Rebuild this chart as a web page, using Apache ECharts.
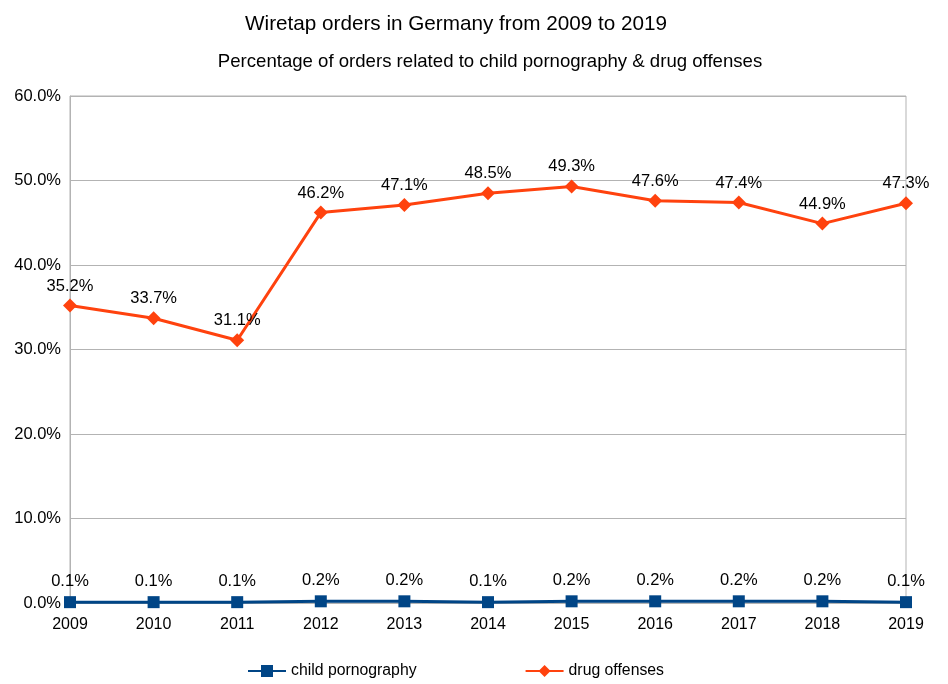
<!DOCTYPE html>
<html><head><meta charset="utf-8">
<script src="https://cdn.jsdelivr.net/npm/echarts@6/dist/echarts.min.js"></script>
<style>html,body{margin:0;padding:0;background:#fff}#c{width:948px;height:684px}</style>
</head><body><div id="c"></div>
<script>
var years = ['2009','2010','2011','2012','2013','2014','2015','2016','2017','2018','2019'];
var childPornography = [0.1,0.1,0.1,0.2,0.2,0.1,0.2,0.2,0.2,0.2,0.1];
var drugOffenses = [35.2,33.7,31.1,46.2,47.1,48.5,49.3,47.6,47.4,44.9,47.3];
var titleText = 'Wiretap orders in Germany from 2009 to 2019';
var subtitleText = 'Percentage of orders related to child pornography & drug offenses';

var font = 'Liberation Sans, Arial, sans-serif';
var chart = echarts.init(document.getElementById('c'));
function pct(v){ return Number(v).toFixed(1) + '%'; }
chart.setOption({
  backgroundColor:'#fff',
  animation:false,
  title:[
    {text:titleText, left:451, textAlign:'center', top:9, textStyle:{fontFamily:font, fontSize:20.7, fontWeight:'normal', color:'#000'}},
    {text:subtitleText, left:485, textAlign:'center', top:47, textStyle:{fontFamily:font, fontSize:18.6, fontWeight:'normal', color:'#000'}}
  ],
  grid:{left:70, right:42, top:96, bottom:81, show:true, borderColor:'#b3b3b3', borderWidth:1, backgroundColor:'transparent'},
  legend:{bottom:0, left:242, itemGap:108, itemWidth:38, itemHeight:15,
    textStyle:{fontFamily:font, fontSize:15.8, color:'#000'},
    data:['child pornography','drug offenses']},
  xAxis:{type:'category', data:years, boundaryGap:false,
    axisLine:{show:false}, axisTick:{show:false},
    splitLine:{show:false},
    axisLabel:{fontFamily:font, fontSize:16, color:'#000', margin:14}},
  yAxis:{type:'value', min:0, max:60, interval:10,
    axisLine:{show:true, lineStyle:{color:'#b3b3b3'}}, axisTick:{show:false},
    splitLine:{lineStyle:{color:'#b3b3b3'}},
    axisLabel:{fontFamily:font, fontSize:16.5, color:'#000', margin:9, formatter:function(v){return pct(v);}}},
  series:[
    {name:'child pornography', type:'line', data:childPornography, color:'#004586',
      symbol:'rect', symbolSize:12, lineStyle:{width:3, color:'#004586'}, itemStyle:{color:'#004586'},
      label:{show:true, position:'top', distance:6, fontFamily:font, fontSize:16.5, color:'#000', formatter:function(p){return pct(p.value);}},
      z:3},
    {name:'drug offenses', type:'line', data:drugOffenses, color:'#ff420e',
      symbol:'diamond', symbolSize:14, lineStyle:{width:3, color:'#ff420e'}, itemStyle:{color:'#ff420e'},
      label:{show:true, position:'top', distance:4, fontFamily:font, fontSize:16.5, color:'#000', formatter:function(p){return pct(p.value);}},
      z:2}
  ]
});
</script></body></html>
